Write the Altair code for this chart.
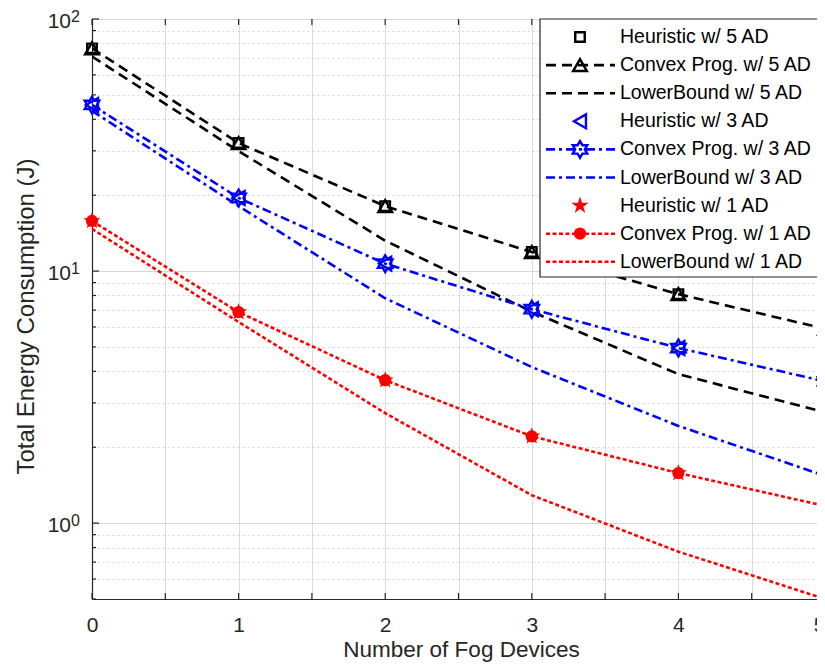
import altair as alt
import pandas as pd

# ---------------- data ----------------
fog_devices = [0, 1, 2, 3, 4, 5]

heur_5 = [76.5, 32.2, 18.1, 11.9, 8.1, 5.9]
conv_5 = [76.5, 32.2, 18.1, 11.9, 8.1, 5.9]
lb_5 = [71.0, 29.9, 13.2, 6.9, 3.9, 2.75]

heur_3 = [45.6, 19.5, 10.7, 7.06, 4.95, 3.65]
conv_3 = [45.6, 19.5, 10.7, 7.06, 4.95, 3.65]
lb_3 = [43.2, 18.1, 7.8, 4.16, 2.43, 1.54]

heur_1 = [15.8, 6.87, 3.69, 2.21, 1.58, 1.17]
conv_1 = [15.8, 6.87, 3.69, 2.21, 1.58, 1.17]
lb_1 = [14.7, 6.28, 2.73, 1.29, 0.77, 0.50]

series_labels = [
    "Heuristic w/ 5 AD", "Convex Prog. w/ 5 AD", "LowerBound w/ 5 AD",
    "Heuristic w/ 3 AD", "Convex Prog. w/ 3 AD", "LowerBound w/ 3 AD",
    "Heuristic w/ 1 AD", "Convex Prog. w/ 1 AD", "LowerBound w/ 1 AD",
]
series_values = [heur_5, conv_5, lb_5, heur_3, conv_3, lb_3, heur_1, conv_1, lb_1]

x_ticks = [0, 0.5, 1, 1.5, 2, 2.5, 3, 3.5, 4, 4.5, 5]
y_major = [1, 10, 100]
y_exponents = ["0", "1", "2"]
y_minor = [0.5, 0.6, 0.7, 0.8, 0.9, 2, 3, 4, 5, 6, 7, 8, 9,
           20, 30, 40, 50, 60, 70, 80, 90]

# ---------------- styles ----------------
HEXAGRAM = ("M0,-1L0.289,-0.5L0.866,-0.5L0.577,0L0.866,0.5L0.289,0.5L0,1"
            "L-0.289,0.5L-0.866,0.5L-0.577,0L-0.866,-0.5L-0.289,-0.5Z")
STAR = ("M0,-1L0.225,-0.309L0.951,-0.309L0.363,0.118L0.588,0.809L0,0.382"
        "L-0.588,0.809L-0.363,0.118L-0.951,-0.309L-0.225,-0.309Z")

styles = [
    dict(color="black", line=None, shape="square", size=90, filled=False),
    dict(color="black", line=[10, 6], shape="triangle-up", size=190, filled=False),
    dict(color="black", line=[10, 6], shape=None),
    dict(color="#0000ff", line=None, shape="triangle-left", size=190, filled=False),
    dict(color="#0000ff", line=[9, 4, 3, 4], shape=HEXAGRAM, size=280, filled=False),
    dict(color="#0000ff", line=[9, 4, 3, 4], shape=None),
    dict(color="#ff0000", line=None, shape=STAR, size=330, filled=True),
    dict(color="#ff0000", line=[4, 2.5], shape="circle", size=150, filled=True),
    dict(color="#ff0000", line=[4, 2.5], shape=None),
]

FONT = "Liberation Sans"
AXC = "#262626"
W, H = 733, 580

x_scale = alt.Scale(domain=[0, 5], nice=False)
y_scale = alt.Scale(type="log", domain=[0.5, 100], nice=False)

x_axis = alt.Axis(
    values=x_ticks,
    labelExpr="datum.value % 1 == 0 ? format(datum.value, 'd') : ''",
    labelFlush=False,
    labelAlign={"condition": {"test": "datum.value == 5", "value": "right"},
                "value": "center"},
    grid=True, gridColor="#dcdcdc", gridWidth=1,
    tickSize=0, labelPadding=15,
    labelFont=FONT, labelFontSize=21, labelColor=AXC,
    domainColor=AXC, domainWidth=1.2,
    title="Number of Fog Devices", titleFont=FONT, titleFontSize=22.5,
    titleFontWeight="normal", titleColor=AXC,
    titleX=369, titleY=57, titleAlign="center", titleBaseline="alphabetic",
)
y_axis = alt.Axis(
    values=sorted(y_major + y_minor),
    labelExpr="''",
    grid=True, gridColor="#d6d6d6", gridWidth=1,
    gridDash={"condition": {"test": "indexof([1, 10, 100], datum.value) >= 0",
                            "value": []}, "value": [2, 3]},
    tickSize=0,
    domainColor=AXC, domainWidth=1.2,
    title="Total Energy Consumption (J)", titleFont=FONT, titleFontSize=24,
    titleFontWeight="normal", titleColor=AXC, titleAngle=270,
    titleX=-59, titleY=297, titleAlign="center", titleBaseline="alphabetic",
)

layers = []
first = True
for label, vals, st in zip(series_labels, series_values, styles):
    df = pd.DataFrame({"x": fog_devices, "energy": vals, "series": label})
    if first:
        xe = alt.X("x:Q", scale=x_scale, axis=x_axis)
        ye = alt.Y("energy:Q", scale=y_scale, axis=y_axis)
        first = False
    else:
        xe = alt.X("x:Q", scale=x_scale)
        ye = alt.Y("energy:Q", scale=y_scale)
    if st["line"] is not None:
        layers.append(
            alt.Chart(df).mark_line(color=st["color"], strokeDash=st["line"],
                                    strokeWidth=2.6, clip=True)
            .encode(x=xe, y=ye)
        )
    if st["shape"] is not None:
        layers.append(
            alt.Chart(df).mark_point(shape=st["shape"], size=st["size"],
                                     filled=st["filled"], color=st["color"],
                                     strokeWidth=2.4, opacity=1)
            .encode(x=xe, y=ye)
        )

# inward tick marks (MATLAB box style) on bottom, top and left
xt = pd.DataFrame({"t": x_ticks})
for y0, y1 in [(H - 6, H), (0, 6)]:
    layers.append(
        alt.Chart(xt).mark_rule(color=AXC, strokeWidth=1.2)
        .encode(x=alt.X("t:Q", scale=x_scale), y=alt.value(y0), y2=alt.value(y1))
    )
for vals, ln in [(y_major, 7), (y_minor, 4)]:
    layers.append(
        alt.Chart(pd.DataFrame({"t": vals})).mark_rule(color=AXC, strokeWidth=1.2)
        .encode(y=alt.Y("t:Q", scale=y_scale), x=alt.value(0), x2=alt.value(ln))
    )

# y tick labels as 10 with superscript exponent
ylab = pd.DataFrame({"v": y_major, "e": y_exponents})
layers.append(
    alt.Chart(ylab).mark_text(font=FONT, fontSize=21, color=AXC, align="right",
                              baseline="middle", dy=3)
    .encode(x=alt.value(-21), y=alt.Y("v:Q", scale=y_scale), text=alt.value("10"))
)
layers.append(
    alt.Chart(ylab).mark_text(font=FONT, fontSize=16, color=AXC, align="left",
                              baseline="middle", dy=-2)
    .encode(x=alt.value(-21), y=alt.Y("v:Q", scale=y_scale), text="e:N")
)

# legend box (inside, north-east)
LX0, LX1, LY0, LY1 = 448, W, 0, 258
layers.append(
    alt.Chart(pd.DataFrame({"a": [0]})).mark_rect(fill="white", stroke=AXC,
                                                  strokeWidth=1.2)
    .encode(x=alt.value(LX0), x2=alt.value(LX1 + 2), y=alt.value(LY0), y2=alt.value(LY1))
)
ROW0, ROWH = 18, 28.1
for i, (label, st) in enumerate(zip(series_labels, styles)):
    ry = ROW0 + ROWH * i
    one = pd.DataFrame({"label": [label]})
    if st["line"] is not None:
        layers.append(
            alt.Chart(one).mark_rule(color=st["color"], strokeDash=st["line"],
                                     strokeWidth=2.6)
            .encode(x=alt.value(454), x2=alt.value(523), y=alt.value(ry))
        )
    if st["shape"] is not None:
        layers.append(
            alt.Chart(one).mark_point(shape=st["shape"], size=st["size"],
                                      filled=st["filled"], color=st["color"],
                                      strokeWidth=2.4, opacity=1)
            .encode(x=alt.value(488), y=alt.value(ry))
        )
    layers.append(
        alt.Chart(one).mark_text(font=FONT, fontSize=19.5, color="black",
                                 align="left", baseline="middle")
        .encode(x=alt.value(528), y=alt.value(ry), text="label:N")
    )

chart = (
    alt.layer(*layers)
    .properties(width=W, height=H,
                autosize=alt.AutoSizeParams(type="none"),
                padding={"left": 84, "top": 11, "right": -8, "bottom": 63})
    .configure_view(stroke=AXC, strokeWidth=1.2)
    .configure(background="white")
)

chart.save("out.html", embed_options={"renderer": "svg", "actions": False})
